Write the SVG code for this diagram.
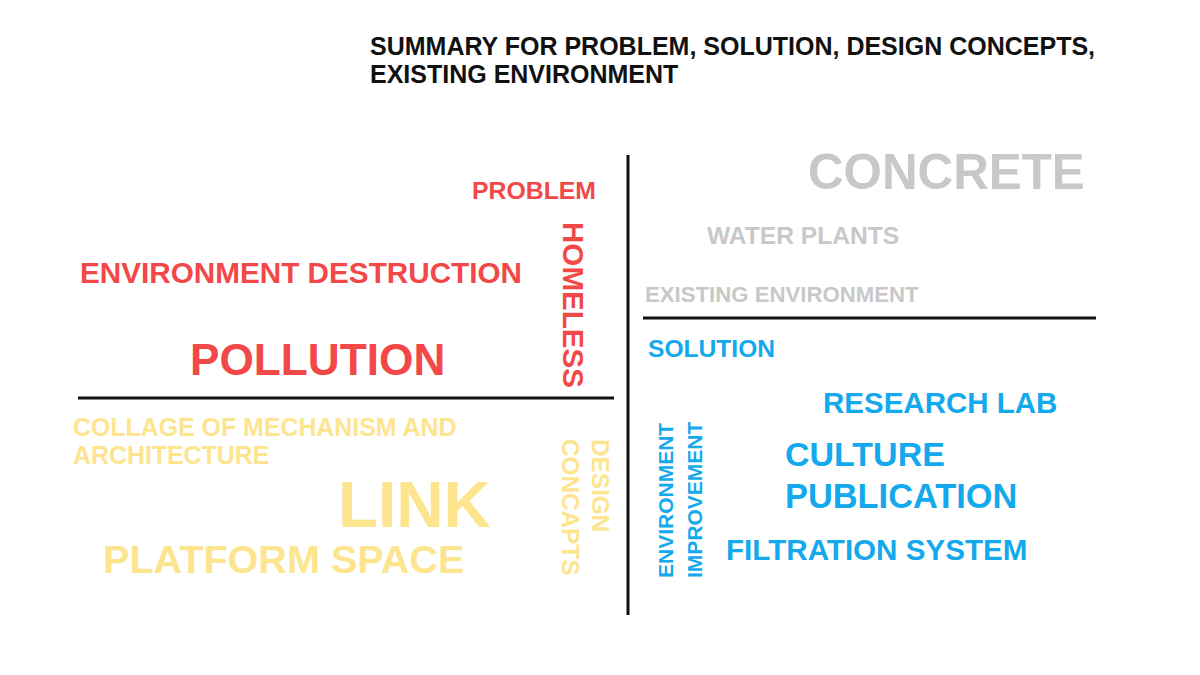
<svg xmlns="http://www.w3.org/2000/svg" width="1200" height="675" viewBox="0 0 1200 675">
<style>
text{font-family:"Liberation Sans",Arial,sans-serif;font-weight:bold}
.t{fill:#111111}
.r{fill:#f24848}
.y{fill:#fde48e}
.b{fill:#14a8ec}
.g{fill:#c8c8c8}
.ln{stroke:#111111;stroke-width:3;fill:none}
</style>
<rect width="1200" height="675" fill="#ffffff"/>
<g id="title">
<text class="t" x="370" y="55" font-size="25">SUMMARY FOR PROBLEM, SOLUTION, DESIGN CONCEPTS,</text>
<text class="t" x="370" y="83" font-size="25">EXISTING ENVIRONMENT</text>
</g>
<g id="connectors">
<line class="ln" x1="628" y1="155" x2="628" y2="615"/>
<line class="ln" x1="78" y1="398" x2="614" y2="398"/>
<line class="ln" x1="643" y1="318" x2="1096" y2="318"/>
</g>
<g id="problem">
<text class="r" x="472" y="199" font-size="24.8">PROBLEM</text>
<text class="r" x="80" y="283" font-size="29.7">ENVIRONMENT DESTRUCTION</text>
<text class="r" x="190" y="375" font-size="44.2">POLLUTION</text>
<text class="r" font-size="29.6" transform="translate(563,222) rotate(90)">HOMELESS</text>
</g>
<g id="design-concepts">
<text class="y" x="73" y="436" font-size="24.9">COLLAGE OF MECHANISM AND</text>
<text class="y" x="73" y="464" font-size="24.9">ARCHITECTURE</text>
<text class="y" x="338" y="527" font-size="65.5">LINK</text>
<text class="y" x="103" y="573" font-size="39.6">PLATFORM SPACE</text>
<text class="y" font-size="24.3" transform="translate(592,439) rotate(90)">DESIGN</text>
<text class="y" font-size="24.3" transform="translate(562,439) rotate(90)">CONCAPTS</text>
</g>
<g id="existing-environment">
<text class="g" x="808" y="189" font-size="49.3">CONCRETE</text>
<text class="g" x="707" y="244" font-size="24.6">WATER PLANTS</text>
<text class="g" x="645" y="302" font-size="22.2">EXISTING ENVIRONMENT</text>
</g>
<g id="solution">
<text class="b" x="648" y="357" font-size="24.6">SOLUTION</text>
<text class="b" x="823" y="413" font-size="29.5">RESEARCH LAB</text>
<text class="b" x="785" y="466" font-size="34">CULTURE</text>
<text class="b" x="785" y="508" font-size="34.4">PUBLICATION</text>
<text class="b" x="726" y="560" font-size="29.6">FILTRATION SYSTEM</text>
<text class="b" font-size="21" transform="translate(673,578) rotate(-90)">ENVIRONMENT</text>
<text class="b" font-size="21" transform="translate(702,578) rotate(-90)">IMPROVEMENT</text>
</g>
</svg>
